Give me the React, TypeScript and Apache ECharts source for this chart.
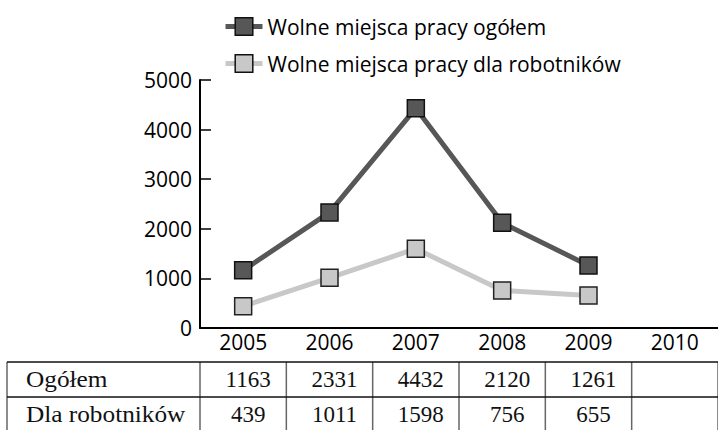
import React, { useEffect, useRef } from "react";
import * as echarts from "echarts";

const years = ["2005", "2006", "2007", "2008", "2009", "2010"];
const totalValues: (number | null)[] = [1163, 2331, 4432, 2120, 1261, null];
const workerValues: (number | null)[] = [439, 1011, 1598, 756, 655, null];
const seriesNames = ["Wolne miejsca pracy ogółem", "Wolne miejsca pracy dla robotników"];
const rowLabels = ["Ogółem", "Dla robotników"];
const yTicks = { min: 0, max: 5000, interval: 1000 };

const SANS = "'Open Sans', 'Noto Sans', sans-serif";
const SERIF = "'Liberation Serif', 'DejaVu Serif', serif";

export default function App() {
  const ref = useRef<HTMLDivElement>(null);
  useEffect(() => {
    if (!ref.current) return;
    const chart = echarts.init(ref.current, undefined, { renderer: "svg" });
    const gridLeft = 200;
    const gridTop = 80;
    const gridBottomY = 328;
    const option: any = {
      animation: false,
      backgroundColor: "#ffffff",
      legend: {
        orient: "vertical",
        left: 223,
        top: 16,
        padding: 0,
        itemWidth: 37,
        itemHeight: 22,
        itemGap: 16,
        lineStyle: { width: 5 },
        itemStyle: { borderColor: "#111", borderWidth: 1.5 },
        textStyle: { fontFamily: SANS, fontSize: 21, color: "#000" },
        data: seriesNames,
      },
      grid: { left: gridLeft, top: gridTop, right: -6, bottom: 430 - gridBottomY, containLabel: false },
      xAxis: {
        type: "category",
        data: years,
        boundaryGap: true,
        axisLine: { lineStyle: { color: "#000", width: 2 } },
        axisTick: { inside: true, length: 6, lineStyle: { color: "#000", width: 1.5 } },
        axisLabel: { fontFamily: SANS, fontSize: 21, color: "#000", margin: 3 },
        splitLine: { show: false },
      },
      yAxis: {
        type: "value",
        min: yTicks.min,
        max: yTicks.max,
        interval: yTicks.interval,
        axisLine: { show: true, lineStyle: { color: "#000", width: 2 } },
        axisTick: { show: true, inside: true, length: 11, lineStyle: { color: "#000", width: 1.5 } },
        axisLabel: {
          fontFamily: SANS,
          fontSize: 21,
          color: "#000",
          margin: 8,
          formatter: (v: number) => String(v),
        },
        splitLine: { show: false },
      },
      series: [
        {
          name: seriesNames[0],
          type: "line",
          data: totalValues,
          symbol: "rect",
          symbolSize: 17,
          lineStyle: { color: "#575757", width: 5 },
          itemStyle: { color: "#575757", borderColor: "#111", borderWidth: 1.5 },
          z: 3,
        },
        {
          name: seriesNames[1],
          type: "line",
          data: workerValues,
          symbol: "rect",
          symbolSize: 17,
          lineStyle: { color: "#c8c8c8", width: 5 },
          itemStyle: { color: "#c8c8c8", borderColor: "#222", borderWidth: 1.5 },
          z: 2,
        },
      ],
    };
    chart.setOption(option);

    // Table below the chart, aligned to the category axis
    const centers = years.map((y) => chart.convertToPixel({ xAxisIndex: 0 }, y) as number);
    const band = centers.length > 1 ? centers[1] - centers[0] : 87;
    const tableTop = 362;
    const rowH = 35;
    const tableLeft = 7;
    const els: any[] = [];
    [0, 1].forEach((r) => {
      els.push({
        type: "line",
        z: 10,
        shape: { x1: tableLeft, y1: tableTop + r * rowH, x2: 718, y2: tableTop + r * rowH },
        style: { stroke: "#111", lineWidth: 1.5 },
      });
    });
    const vx = [tableLeft, ...centers.map((c) => c - band / 2), centers[centers.length - 1] + band / 2];
    vx.forEach((x) => {
      els.push({
        type: "line",
        z: 9,
        shape: { x1: x, y1: tableTop, x2: x, y2: 430 },
        style: { stroke: "#666", lineWidth: 1.5 },
      });
    });
    const rows = [totalValues, workerValues];
    rows.forEach((vals, r) => {
      const cy = tableTop + r * rowH + rowH / 2 - 0.5;
      els.push({
        type: "text",
        x: 26,
        y: cy,
        scaleX: 1.1,
        style: {
          text: rowLabels[r],
          fontFamily: SERIF,
          fontSize: 23,
          fill: "#111",
          textAlign: "left",
          textVerticalAlign: "middle",
        },
      });
      vals.forEach((v, i) => {
        if (v == null) return;
        els.push({
          type: "text",
          x: centers[i] + 5,
          y: cy,
          style: {
            text: String(v),
            fontFamily: SERIF,
            fontSize: 23,
            fill: "#111",
            textAlign: "center",
            textVerticalAlign: "middle",
          },
        });
      });
    });
    chart.setOption({ graphic: { elements: els } });
    return () => chart.dispose();
  }, []);
  return (
    <div
      ref={ref}
      style={{ position: "fixed", left: 0, top: 0, width: 718, height: 430, background: "#fff" }}
    />
  );
}
